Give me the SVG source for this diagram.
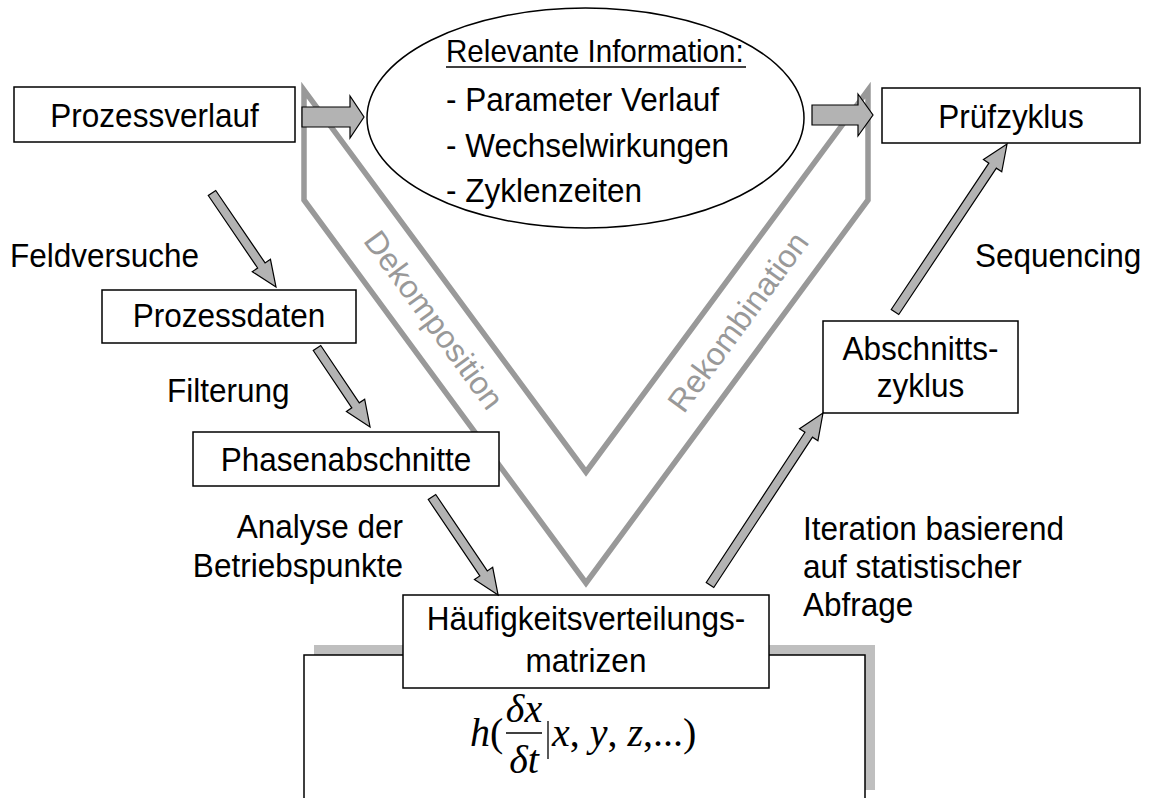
<svg xmlns="http://www.w3.org/2000/svg" width="1149" height="798" viewBox="0 0 1149 798">
  <style>
    .box { fill: #ffffff; stroke: #000000; stroke-width: 1.5; }
    .lbl { font-family: "Liberation Sans", Arial, sans-serif; font-size: 33px; fill: #000000; }
    .head { font-size: 31px; }
    .mid { text-anchor: middle; }
    .end { text-anchor: end; }
    .band { fill: none; stroke: #999999; stroke-width: 5.5; stroke-linejoin: miter; }
    .bandtxt { font-family: "Liberation Sans", Arial, sans-serif; font-size: 32px; fill: #999999; text-anchor: middle; }
    .arrow { fill: #b3b3b3; stroke: #000000; stroke-width: 1.2; stroke-linejoin: miter; }
    .math { font-family: "Liberation Serif", "Times New Roman", serif; font-size: 40px; fill: #000000; }
    .it { font-style: italic; }
  </style>

  <!-- formula panel with offset shadow -->
  <g id="formula-panel">
    <rect x="314" y="645" width="561" height="145" fill="#bfbfbf"/>
    <rect class="box" x="304" y="655" width="561" height="160"/>
    <text class="math" x="470" y="746"><tspan class="it">h</tspan>(</text>
    <text class="math mid it" x="524" y="722" font-size="37">δx</text>
    <line x1="506" y1="733" x2="542" y2="733" stroke="#000" stroke-width="1.5"/>
    <text class="math mid it" x="524" y="773" font-size="37">δt</text>
    <line x1="548" y1="721" x2="548" y2="759" stroke="#000" stroke-width="1.3"/>
    <text class="math" x="552" y="746"><tspan class="it">x</tspan>, <tspan class="it">y</tspan>, <tspan class="it">z</tspan>,...)</text>
  </g>

  <!-- decomposition / recombination chevron -->
  <g id="v-band">
    <polygon class="band" points="304,90 304,200 586,583 868,200 868,90 586,472"/>
    <text class="bandtxt" transform="translate(434,320) rotate(53.8)" x="0" y="11">Dekomposition</text>
    <text class="bandtxt" transform="translate(738,322) rotate(-53.8)" x="0" y="11">Rekombination</text>
  </g>

  <g id="node-prozessverlauf">
    <rect class="box" x="14" y="87" width="281" height="55"/>
    <text class="lbl mid" transform="translate(154.5,127) scale(0.955,1)">Prozessverlauf</text>
  </g>

  <g id="node-information">
    <ellipse class="box" cx="585.5" cy="118" rx="218.5" ry="110"/>
    <text class="lbl head" transform="translate(446,62) scale(0.955,1)">Relevante Information:</text>
    <line x1="446" y1="67" x2="746" y2="67" stroke="#000" stroke-width="1.5"/>
    <text class="lbl" transform="translate(446,111) scale(0.955,1)">- Parameter Verlauf</text>
    <text class="lbl" transform="translate(446,157) scale(0.955,1)">- Wechselwirkungen</text>
    <text class="lbl" transform="translate(446,202) scale(0.955,1)">- Zyklenzeiten</text>
  </g>

  <g id="node-pruefzyklus">
    <rect class="box" x="882" y="88" width="258" height="55"/>
    <text class="lbl mid" transform="translate(1011,128) scale(0.955,1)">Prüfzyklus</text>
  </g>

  <g id="node-prozessdaten">
    <rect class="box" x="102" y="290" width="254" height="53"/>
    <text class="lbl mid" transform="translate(229,327) scale(0.955,1)">Prozessdaten</text>
  </g>

  <g id="node-phasenabschnitte">
    <rect class="box" x="193" y="432" width="306" height="54"/>
    <text class="lbl mid" transform="translate(346,471) scale(0.955,1)">Phasenabschnitte</text>
  </g>

  <g id="node-abschnittszyklus">
    <rect class="box" x="823" y="321" width="195" height="92"/>
    <text class="lbl mid" transform="translate(920.5,360) scale(0.955,1)">Abschnitts-</text>
    <text class="lbl mid" transform="translate(920.5,397) scale(0.955,1)">zyklus</text>
  </g>

  <g id="node-haeufigkeit">
    <rect class="box" x="403" y="595" width="366" height="93"/>
    <text class="lbl mid" transform="translate(586,630) scale(0.955,1)">Häufigkeitsverteilungs-</text>
    <text class="lbl mid" transform="translate(586,672) scale(0.955,1)">matrizen</text>
  </g>

  <!-- connectors -->
  <g id="connectors">
    <path class="arrow" d="M302,107 H350 V96 L364,117 L350,138 V127 H302 Z"/>
    <path class="arrow" d="M812,105 H858 V94 L873,115 L858,136 V125 H812 Z"/>
    <path class="arrow" transform="translate(212,193) rotate(55.75)" d="M0,-4.5 H87.7 V-11 L113.7,0 L87.7,11 V4.5 H0 Z"/>
    <path class="arrow" transform="translate(317,348) rotate(56.1)" d="M0,-4.5 H69.1 V-11 L95.1,0 L69.1,11 V4.5 H0 Z"/>
    <path class="arrow" transform="translate(432,497) rotate(56)" d="M0,-4.5 H92.2 V-11 L118.2,0 L92.2,11 V4.5 H0 Z"/>
    <path class="arrow" transform="translate(710,585) rotate(-56.7)" d="M0,-4.5 H179.8 V-11 L205.8,0 L179.8,11 V4.5 H0 Z"/>
    <path class="arrow" transform="translate(895,312) rotate(-56.3)" d="M0,-4.5 H175.9 V-11 L201.9,0 L175.9,11 V4.5 H0 Z"/>
  </g>

  <!-- connector labels -->
  <g id="labels">
    <text class="lbl" transform="translate(10,267) scale(0.955,1)">Feldversuche</text>
    <text class="lbl" transform="translate(167,402) scale(0.955,1)">Filterung</text>
    <text class="lbl end" transform="translate(403,538) scale(0.955,1)">Analyse der</text>
    <text class="lbl end" transform="translate(403,577) scale(0.955,1)">Betriebspunkte</text>
    <text class="lbl" transform="translate(803,540) scale(0.955,1)">Iteration basierend</text>
    <text class="lbl" transform="translate(803,578) scale(0.955,1)">auf statistischer</text>
    <text class="lbl" transform="translate(803,616) scale(0.955,1)">Abfrage</text>
    <text class="lbl" transform="translate(975,267) scale(0.955,1)">Sequencing</text>
  </g>
</svg>
